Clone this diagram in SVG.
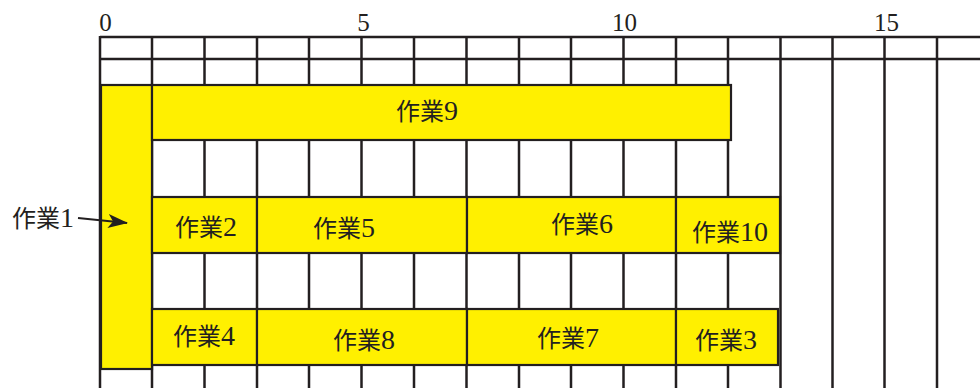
<svg xmlns="http://www.w3.org/2000/svg" width="980" height="388" viewBox="0 0 980 388">
<style>
.grid line{stroke:#231f20;stroke-width:2.5}
.bar{fill:#fff000;stroke:#231f20;stroke-width:2.2}
text{fill:#231f20;text-anchor:middle}
</style>
<defs>
<marker id="ah" viewBox="0 0 20 14" markerWidth="20" markerHeight="14" refX="19" refY="7" orient="auto" markerUnits="userSpaceOnUse">
<path d="M0,0 L20,7 L0,14 L5,7 Z" fill="#231f20"/>
</marker>
</defs>
<rect width="980" height="388" fill="#fff"/>
<g id="axis" font-family="Liberation Serif, DejaVu Serif, serif" font-size="25" fill="#333">
<text x="105.5" y="31">0</text>
<text x="363.5" y="31">5</text>
<text x="624.5" y="31">10</text>
<text x="886.5" y="31">15</text>
</g>
<g id="grid" class="grid">
<line x1="100" y1="37" x2="980" y2="37"/>
<line x1="100" y1="59" x2="980" y2="59"/>
<line x1="100" y1="36" x2="100" y2="388"/>
<line x1="152" y1="37" x2="152" y2="388"/>
<line x1="204.5" y1="37" x2="204.5" y2="388"/>
<line x1="257" y1="37" x2="257" y2="388"/>
<line x1="309" y1="37" x2="309" y2="388"/>
<line x1="361.5" y1="37" x2="361.5" y2="388"/>
<line x1="414" y1="37" x2="414" y2="388"/>
<line x1="466.5" y1="37" x2="466.5" y2="388"/>
<line x1="519" y1="37" x2="519" y2="388"/>
<line x1="571" y1="37" x2="571" y2="388"/>
<line x1="623.5" y1="37" x2="623.5" y2="388"/>
<line x1="676" y1="37" x2="676" y2="388"/>
<line x1="728" y1="37" x2="728" y2="388"/>
<line x1="780.5" y1="37" x2="780.5" y2="388"/>
<line x1="832.5" y1="37" x2="832.5" y2="388"/>
<line x1="884.5" y1="37" x2="884.5" y2="388"/>
<line x1="937" y1="37" x2="937" y2="388"/>
</g>
<g font-family="Liberation Serif, Noto Sans CJK JP, serif" font-size="24">
<g id="task1"><rect class="bar" x="101" y="85" width="51" height="284"/></g>
<g id="task9"><rect class="bar" x="152" y="85" width="579" height="55"/><text x="427" y="120">作業<tspan font-size="28">9</tspan></text></g>
<g id="task2"><rect class="bar" x="152" y="197" width="105" height="56"/><text x="206" y="236">作業<tspan font-size="28">2</tspan></text></g>
<g id="task5"><rect class="bar" x="257" y="197" width="210" height="56"/><text x="344" y="237">作業<tspan font-size="28">5</tspan></text></g>
<g id="task6"><rect class="bar" x="467" y="197" width="209" height="56"/><text x="582" y="233">作業<tspan font-size="28">6</tspan></text></g>
<g id="task10"><rect class="bar" x="676" y="197" width="104" height="56"/><text x="730" y="241">作業<tspan font-size="28">10</tspan></text></g>
<g id="task4"><rect class="bar" x="152" y="309" width="105" height="56"/><text x="204" y="345">作業<tspan font-size="28">4</tspan></text></g>
<g id="task8"><rect class="bar" x="257" y="309" width="210" height="56"/><text x="364" y="349">作業<tspan font-size="28">8</tspan></text></g>
<g id="task7"><rect class="bar" x="467" y="309" width="209" height="56"/><text x="568" y="347">作業<tspan font-size="28">7</tspan></text></g>
<g id="task3"><rect class="bar" x="676" y="309" width="102" height="56"/><text x="726" y="349">作業<tspan font-size="28">3</tspan></text></g>
<g id="label1"><text x="43" y="227">作業<tspan font-size="28">1</tspan></text></g>
</g>
<g id="connectors">
<line x1="78" y1="218" x2="127" y2="223" stroke="#231f20" stroke-width="2.2" marker-end="url(#ah)"/>
</g>
</svg>
